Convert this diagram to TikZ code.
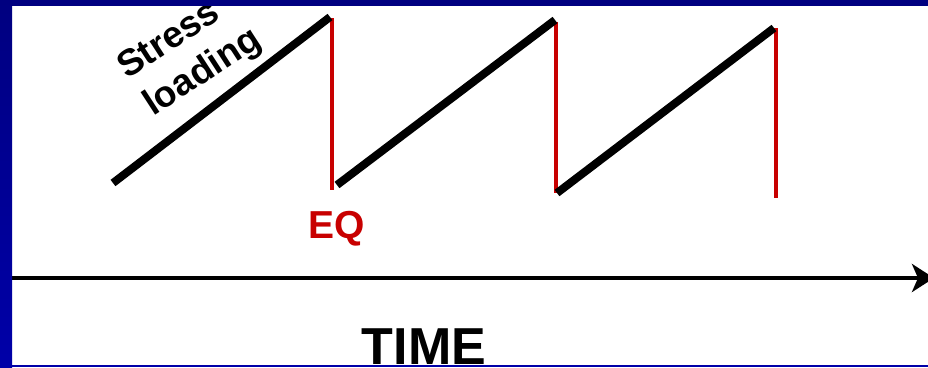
\documentclass[tikz,border=0pt]{standalone}
\usepackage{fontspec}
\setmainfont{Liberation Sans}
\usetikzlibrary{arrows.meta}
\definecolor{navytop}{HTML}{000080}
\definecolor{navybot}{HTML}{0000A8}
\definecolor{eqred}{HTML}{C80000}
\begin{document}
\begin{tikzpicture}[x=1pt,y=-1pt,
  load/.style={line width=8pt,black,line cap=butt},
  quake/.style={line width=3.5pt,eqred},
  lbl/.style={font=\bfseries\fontsize{39}{48}\selectfont,inner sep=0pt},
  slant/.style={lbl,font=\bfseries\fontsize{37}{44}\selectfont,rotate=33,anchor=base west},
  axisline/.style={line width=4.5pt,black,-{Stealth[length=22pt,width=28pt,inset=6pt]}}]
\useasboundingbox (0,0) rectangle (928,367);
\fill[white] (0,0) rectangle (928,367);
% sawtooth points
\coordinate (s1) at (113,183);
\coordinate (t1) at (330,17);
\coordinate (q1a) at (332,18);
\coordinate (q1b) at (332,190);
\coordinate (s2) at (337,185);
\coordinate (t2) at (555,20);
\coordinate (q2a) at (556,22);
\coordinate (q2b) at (556,193);
\coordinate (s3) at (557,193);
\coordinate (t3) at (774,28);
\coordinate (q3a) at (776,28);
\coordinate (q3b) at (776,198);
\draw[quake] (q1a) -- (q1b);
\draw[quake] (q2a) -- (q2b);
\draw[quake] (q3a) -- (q3b);
\draw[load] (s1) -- (t1);
\draw[load] (s2) -- (t2);
\draw[load] (s3) -- (t3);
% labels
\node[slant] (stress) at (127,80) {Stress};
\node[slant] (loading) at (153,117) {loading};
\node[lbl,text=eqred] (eq) at (337,229) {EQ};
% time axis
\coordinate (a0) at (12,278);
\coordinate (a1) at (934,278);
\draw[axisline] (a0) -- (a1);
\node[lbl,font=\bfseries\fontsize{52}{60}\selectfont,anchor=base] (time) at (424,364) {TIME};
% frame
\fill[navytop] (0,0) rectangle (928,6);
\shade[top color=navytop,bottom color=navybot] (0,0) rectangle (12,367);
\fill[navybot] (0,365) rectangle (928,367);
\end{tikzpicture}
\end{document}
